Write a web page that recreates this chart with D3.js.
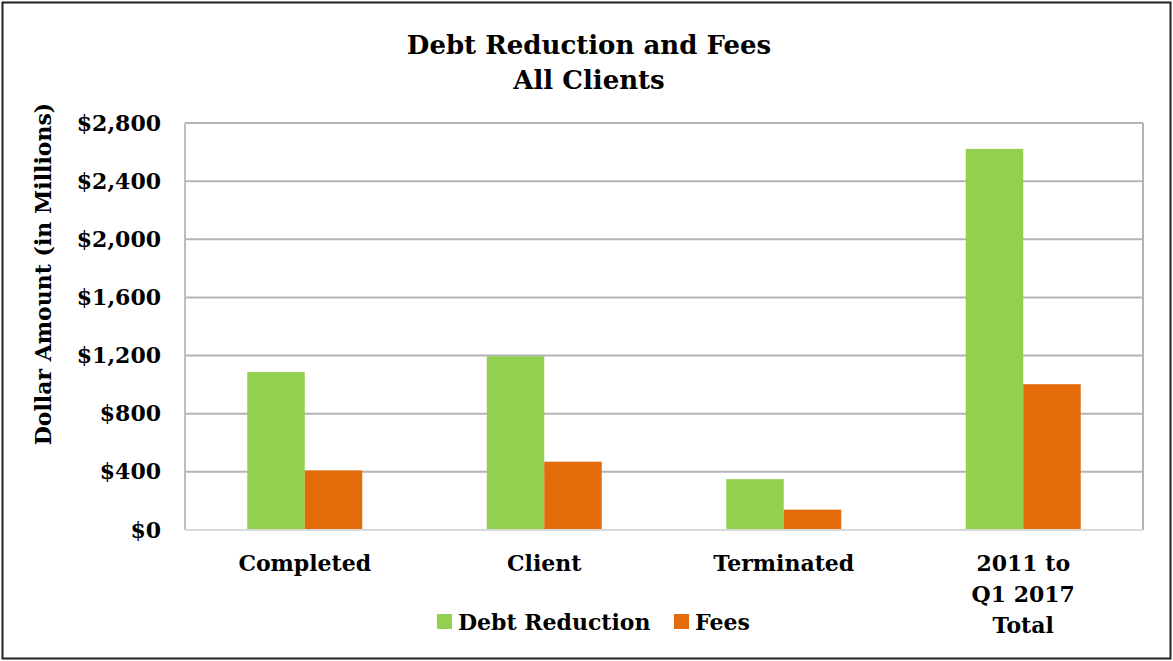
<!DOCTYPE html>
<html>
<head>
<meta charset="utf-8">
<script src="https://cdn.jsdelivr.net/npm/d3@7"></script>
<style>
  html, body { margin: 0; padding: 0; background: #fff; }
  svg text { font-family: "DejaVu Serif", serif; font-weight: bold; fill: #000; }
</style>
</head>
<body>
<svg id="chart" width="1173" height="661"></svg>
<script>
// Debt reduction and fees by client group, in millions of dollars
const categories = ["Completed", "Client", "Terminated", "2011 to\nQ1 2017\nTotal"];
const seriesNames = ["Debt Reduction", "Fees"];
const debtReduction = [1087, 1195, 350, 2622];
const fees = [410, 470, 140, 1003];
const yTicks = [0, 400, 800, 1200, 1600, 2000, 2400, 2800];
const colors = ["#92D050", "#E46C0A"];

const svg = d3.select("#chart");
const W = 1173, H = 661;
const m = { left: 185, right: 1143, top: 123, bottom: 530 };

// outer frame
svg.append("rect")
  .attr("x", 2.5).attr("y", 2.5).attr("width", W - 5).attr("height", H - 5)
  .attr("fill", "#fff").attr("stroke", "#222").attr("stroke-width", 2);

const x0 = d3.scaleBand().domain(categories).range([m.left, m.right]).paddingInner(0.52).paddingOuter(0.26);
const x1 = d3.scaleBand().domain(seriesNames).range([0, x0.bandwidth()]);
const y = d3.scaleLinear().domain([0, 2800]).range([m.bottom, m.top]);

// gridlines
svg.append("g").selectAll("line").data(yTicks.filter(d => d > 0)).join("line")
  .attr("x1", m.left).attr("x2", m.right)
  .attr("y1", d => y(d)).attr("y2", d => y(d))
  .attr("stroke", "#b3b3b3").attr("stroke-width", 2);

// plot area edges
svg.append("line").attr("x1", m.left).attr("x2", m.left).attr("y1", m.top).attr("y2", m.bottom)
  .attr("stroke", "#bdbdbd").attr("stroke-width", 2);
svg.append("line").attr("x1", m.right).attr("x2", m.right).attr("y1", m.top).attr("y2", m.bottom)
  .attr("stroke", "#b3b3b3").attr("stroke-width", 2);

// bars
const rows = categories.map((c, i) => ({ cat: c, vals: [debtReduction[i], fees[i]] }));
const groups = svg.append("g").selectAll("g").data(rows).join("g")
  .attr("transform", d => `translate(${x0(d.cat)},0)`);
groups.selectAll("rect").data(d => d.vals.map((v, j) => ({ key: seriesNames[j], v, j }))).join("rect")
  .attr("x", d => x1(d.key))
  .attr("width", x1.bandwidth())
  .attr("y", d => y(d.v))
  .attr("height", d => y(0) - y(d.v))
  .attr("fill", d => colors[d.j]);

// baseline
svg.append("line").attr("x1", m.left).attr("x2", m.right).attr("y1", y(0)).attr("y2", y(0))
  .attr("stroke", "#d9d9d9").attr("stroke-width", 2);

// y axis labels
const yAxis = d3.axisLeft(y).tickValues(yTicks).tickSize(0).tickPadding(0)
  .tickFormat(d => "$" + d3.format(",")(d));
const ya = svg.append("g").attr("transform", `translate(161,0)`).call(yAxis);
ya.select(".domain").remove();
ya.selectAll("text").attr("font-size", 22).attr("font-family", "DejaVu Serif").attr("font-weight", "bold").attr("fill", "#000");

// x category labels
const xl = svg.append("g").selectAll("text").data(categories).join("text")
  .attr("text-anchor", "middle").attr("font-size", 22)
  .attr("x", d => x0(d) + x0.bandwidth() / 2)
  .attr("y", 571);
xl.selectAll("tspan").data(d => d.split("\n")).join("tspan")
  .attr("x", function () { return d3.select(this.parentNode).attr("x"); })
  .attr("dy", (d, i) => i === 0 ? 0 : 31)
  .text(d => d);

// y axis title
svg.append("text").attr("transform", "translate(51,274) rotate(-90)")
  .attr("text-anchor", "middle").attr("font-size", 22)
  .text("Dollar Amount (in Millions)");

// title
svg.append("text").attr("x", 589).attr("y", 54).attr("text-anchor", "middle").attr("font-size", 26)
  .text("Debt Reduction and Fees");
svg.append("text").attr("x", 589).attr("y", 89).attr("text-anchor", "middle").attr("font-size", 26)
  .text("All Clients");

// legend
const legendX = [437, 674];
const lg = svg.append("g").selectAll("g").data(seriesNames).join("g")
  .attr("transform", (d, i) => `translate(${legendX[i]},614)`);
lg.append("rect").attr("width", 15).attr("height", 15).attr("fill", (d, i) => colors[i]);
lg.append("text").attr("x", 21).attr("y", 16).attr("font-size", 22).text(d => d);
</script>
</body>
</html>
